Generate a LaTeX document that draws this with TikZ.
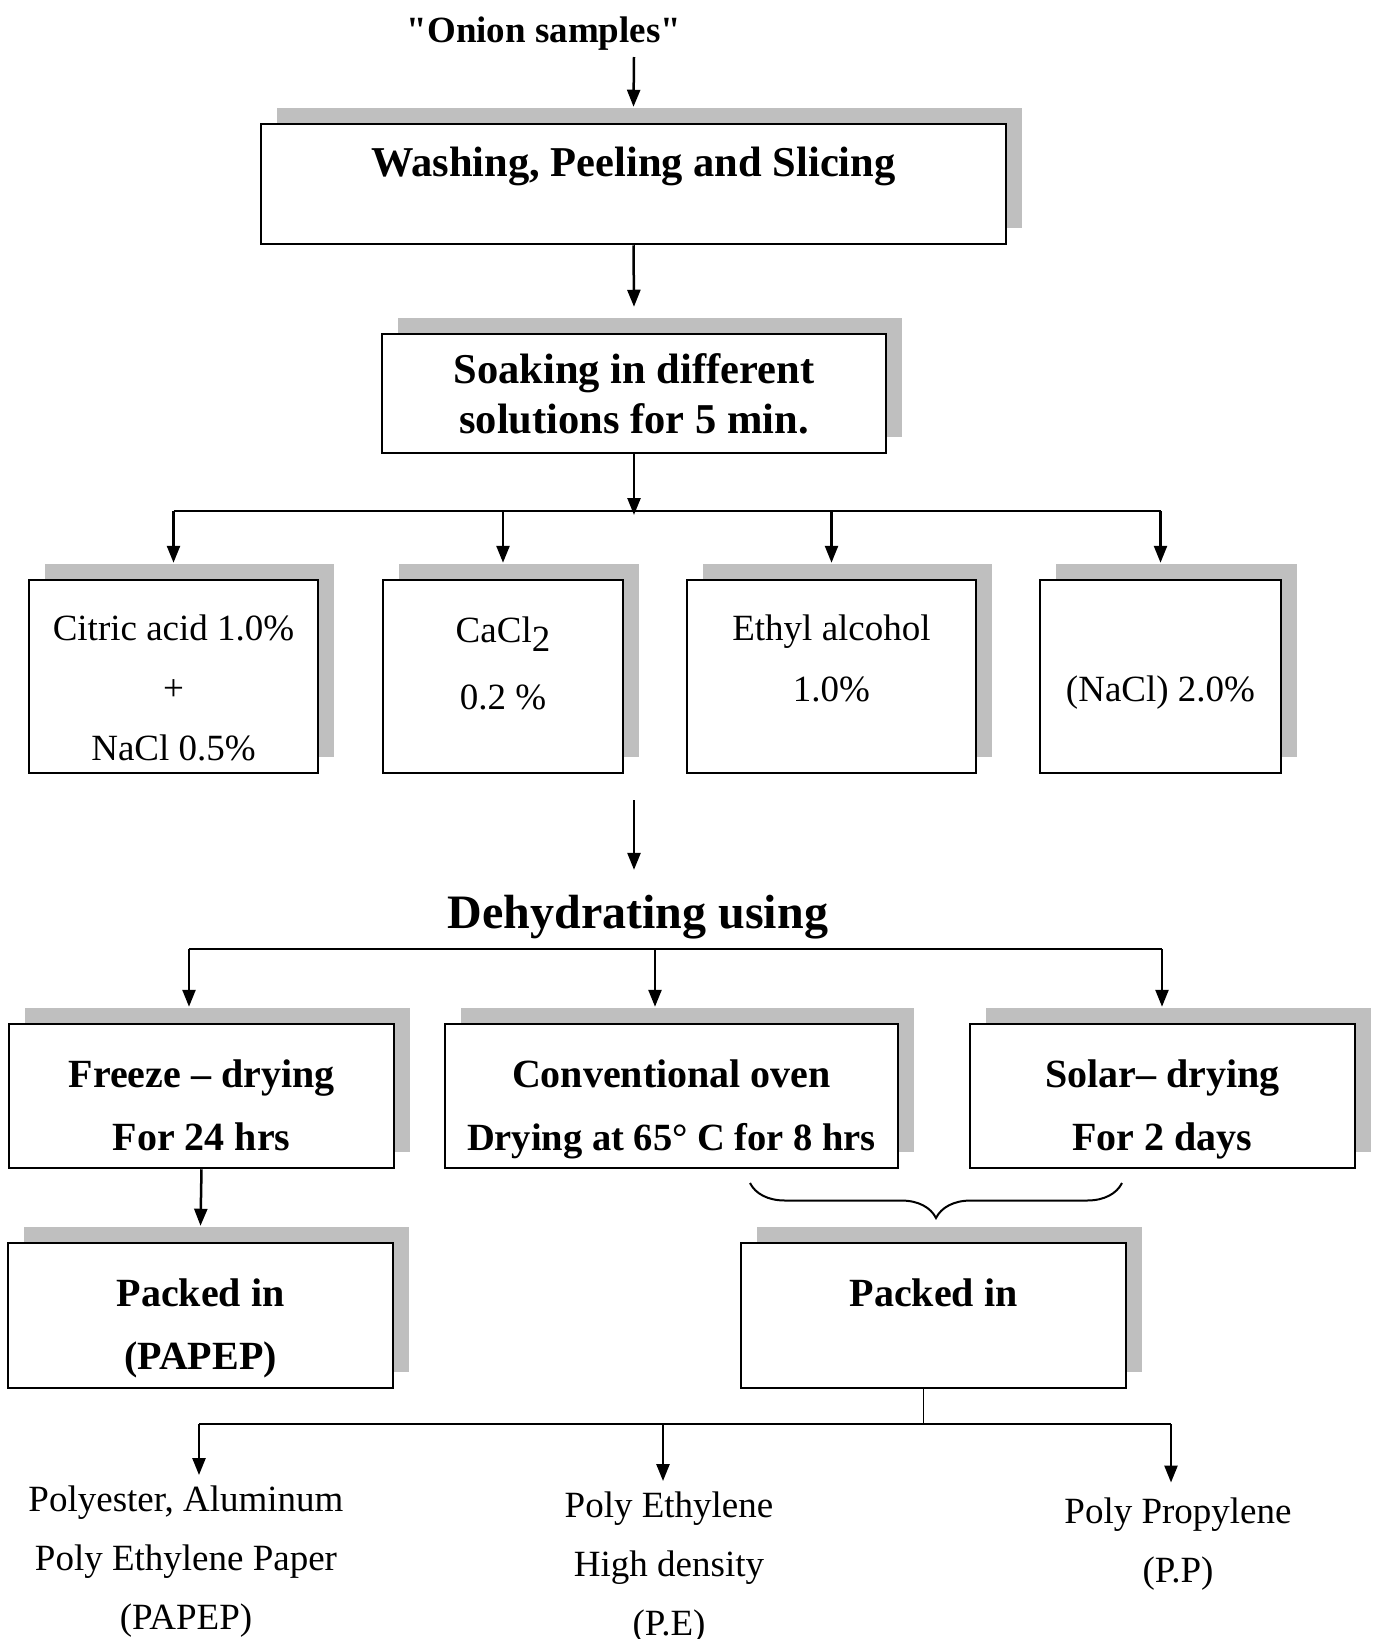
\documentclass[tikz,border=0pt]{standalone}
\usepackage{fontspec}
\setmainfont{Liberation Serif}[Ligatures=TeXOff]
\usetikzlibrary{arrows.meta,shadows,decorations.pathreplacing}

\tikzset{
  stepbox/.style={draw, line width=2.5pt, fill=white, inner sep=0pt,
    drop shadow={shadow xshift=16pt, shadow yshift=16pt, fill=black!25, opacity=1}},
  arr/.style={-{Triangle[length=17pt,width=13pt]}, line width=2.5pt},
  link/.style={line width=2.5pt},
  txt/.style={align=center, inner sep=0pt, font=\fontsize{37}{60}\selectfont},
  head/.style={align=center, inner sep=0pt, font=\fontsize{40}{63}\selectfont\bfseries},
}

\begin{document}
\begin{tikzpicture}[x=1pt,y=-1pt]
  \useasboundingbox (0,0) rectangle (1376,1639);
  % Start
  \node[txt, font=\fontsize{37}{44}\selectfont\bfseries] (onion) at (544,34) {"Onion samples"};
  \node[stepbox, minimum width=745pt, minimum height=120pt] (wash) at (633.5,184) {};
  \node[head, font=\fontsize{42.5}{50}\selectfont\bfseries] (washtxt) at (633.5,166) {Washing, Peeling and Slicing};
  \node[stepbox, minimum width=504pt, minimum height=119pt] (soak) at (634,393.5) {};
  \node[head, font=\fontsize{42.5}{50}\selectfont\bfseries] (soaktxt) at (634,394) {Soaking in different\\solutions for 5 min.};
  \coordinate (in0) at (634,57);
  \draw[arr] (in0) -- ([yshift=16pt]wash.north);
  \draw[arr] (wash.south) -- ([yshift=26pt]soak.north);

  % Solutions
  \foreach \n/\x/\w in {citric/173.5/289, cacl/503/240, ethyl/831.5/289, nacl/1160.5/241}
    \node[stepbox, minimum width=\w pt, minimum height=193pt] (\n) at (\x,676.5) {};
  \node[txt, font=\fontsize{37}{60}\selectfont] (citrictxt) at (173.5,688) {Citric acid 1.0\%\\+\\NaCl 0.5\%};
  \node[txt, font=\fontsize{37}{67}\selectfont] (cacltxt) at (503,663.5) {CaCl\raisebox{-9pt}{2}\\0.2 \%};
  \node[txt, font=\fontsize{37}{61}\selectfont] (ethyltxt) at (831.5,658.5) {Ethyl alcohol\\1.0\%};
  \node[txt] (nacltxt) at (1160.5,693) {(NaCl) 2.0\%};
  \coordinate (split1) at (634,511);
  \draw[arr] (soak.south) -- ([yshift=-4pt]split1);
  \draw[link] (citric.north |- split1) -- (nacl.north |- split1);
  \foreach \n in {citric,cacl,ethyl,nacl}
    \draw[arr] (\n.north |- split1) -- ([yshift=16pt]\n.north);

  % Drying
  \coordinate (d0) at (634,800);
  \node[inner sep=0pt, font=\fontsize{48}{56}\selectfont\bfseries] (dehyd) at (638,917) {Dehydrating using};
  \draw[arr] (d0) -- ([yshift=25pt]dehyd.north -| d0);
  \foreach \n/\x/\w in {freeze/201.5/385, conv/671.5/453, solar/1162.5/385}
    \node[stepbox, minimum width=\w pt, minimum height=144pt] (\n) at (\x,1096) {};
  \node[head] (freezetxt) at (201.5,1105.5) {Freeze \textendash{} drying\\For 24 hrs};
  \node[head] (convtxt) at (671.5,1109.5) {Conventional oven\\{\fontsize{38.5}{63}\selectfont Drying at 65° C for 8 hrs}};
  \node[head] (solartxt) at (1162.5,1109.5) {Solar\textendash{} drying\\For 2 days};
  \coordinate (s2a) at (189,949);
  \coordinate (s2b) at (655,949);
  \coordinate (s2c) at (1162,949);
  \draw[link] (s2a) -- (s2c);
  \draw[arr] (s2a) -- ([yshift=16pt]s2a |- freeze.north);
  \draw[arr] (s2b) -- ([yshift=16pt]s2b |- conv.north);
  \draw[arr] (s2c) -- ([yshift=16pt]s2c |- solar.north);

  % Packing
  \node[stepbox, minimum width=385pt, minimum height=145pt] (pack1) at (200.5,1315.5) {};
  \node[head] (pack1txt) at (200.5,1328.5) {Packed in\\(PAPEP)};
  \node[stepbox, minimum width=385pt, minimum height=145pt] (pack2) at (933.5,1315.5) {};
  \node[head] (pack2txt) at (933.5,1293) {Packed in};
  \draw[arr] (freeze.south) -- ([yshift=16pt]pack1.north);
  \coordinate (br0) at (750,1183);
  \coordinate (br1) at (1122,1183);
  \draw[line width=2pt, decorate, decoration={brace, mirror, amplitude=35pt}] (br0) -- (br1);

  % Packages
  \node[txt, font=\fontsize{37}{59}\selectfont] (papep) at (186,1562) {Polyester, Aluminum\\Poly Ethylene Paper\\(PAPEP)};
  \node[txt, font=\fontsize{37}{59}\selectfont] (pe) at (669,1568) {Poly Ethylene\\High density\\(P.E)};
  \node[txt, font=\fontsize{37}{59}\selectfont] (pp) at (1178,1544) {Poly Propylene\\(P.P)};
  \coordinate (split3) at (923,1424);
  \coordinate (s3a) at (199,1424);
  \coordinate (s3b) at (663,1424);
  \coordinate (s3c) at (1171,1424);
  \draw[line width=1pt] (pack2.south -| split3) -- (split3);
  \draw[link] (s3a) -- (s3c);
  \draw[arr] (s3a) -- ([yshift=11pt]s3a |- papep.north);
  \draw[arr] (s3b) -- ([yshift=11pt]s3b |- pe.north);
  \draw[arr] (s3c) -- ([yshift=15pt]s3c |- pp.north);
\end{tikzpicture}
\end{document}
